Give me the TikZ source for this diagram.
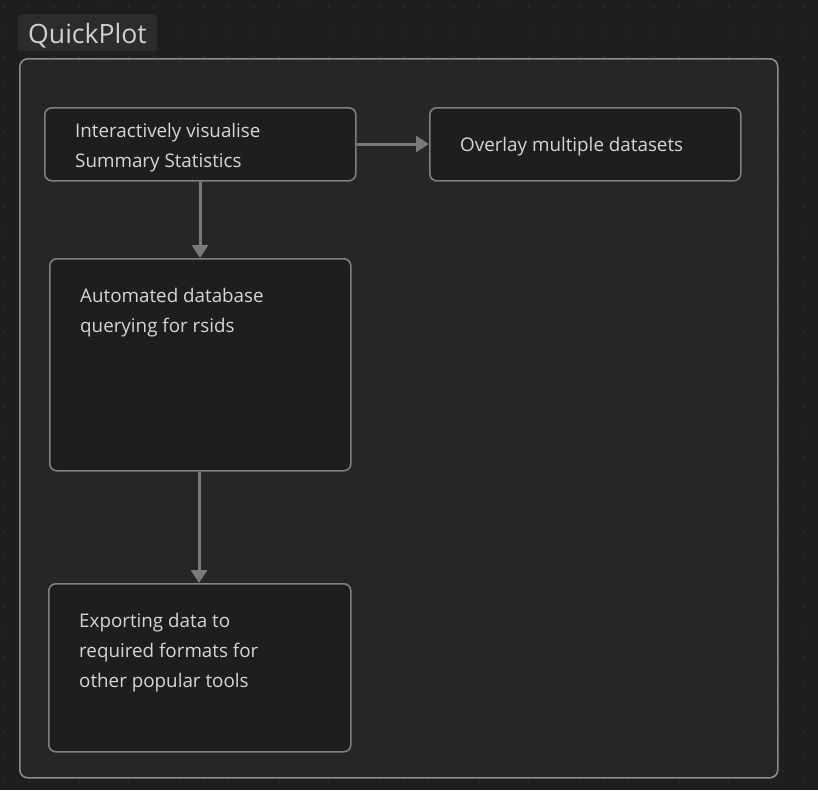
\documentclass[tikz,border=0pt]{standalone}
\usepackage{fontspec}
\setmainfont{Open Sans}
\usetikzlibrary{arrows.meta}
\definecolor{bgc}{HTML}{1E1E1E}
\definecolor{grpc}{HTML}{262626}
\definecolor{nodec}{HTML}{1E1E1E}
\definecolor{grpline}{HTML}{8C8C8C}
\definecolor{nodeline}{HTML}{808080}
\definecolor{txtc}{HTML}{D6D6D6}
\definecolor{titlebg}{HTML}{2C2C2C}
\definecolor{dotc}{HTML}{383838}
\definecolor{arrc}{HTML}{7A7A7A}
\tikzset{
  px/.style={x=1pt,y=-1pt},
  card/.style={draw=nodeline, line width=1.6pt, fill=nodec, rounded corners=7pt, inner sep=0pt},
  label/.style={anchor=base west, inner sep=0pt, text=txtc, font=\fontsize{18.8}{30}\selectfont, align=left},
  conn/.style={draw=arrc, line width=3pt, -{Triangle[length=13pt,width=16pt]}, shorten >=0pt}
}
\begin{document}
\begin{tikzpicture}[px]
\fill[bgc] (0,0) rectangle (818,790);
\useasboundingbox (0,0) rectangle (818,790);
% dot grid
\foreach \i in {0,...,32} {
  \foreach \j in {0,...,31} {
    \fill[dotc] ({4+25*\i},{7+25*\j}) circle (0.9pt);
  }
}
% group
\node[draw=grpline, line width=1.6pt, fill=grpc, rounded corners=8pt, minimum width=758pt, minimum height=719pt, anchor=north west, inner sep=0pt] (grp) at (19,58) {};
% title
\node[fill=titlebg, rounded corners=3pt, minimum width=139pt, minimum height=37pt, anchor=north west, inner sep=0pt] (ttlbox) at (18,14) {};
\node[anchor=base west, inner sep=0pt, text=txtc!92!gray, font=\fontsize{26.6}{30}\selectfont] (ttl) at (28,43) {QuickPlot};
% cards
\node[card, minimum width=311pt, minimum height=73pt, anchor=north west] (a) at (44,107) {};
\node[card, minimum width=311pt, minimum height=73pt, anchor=north west] (b) at (429,107) {};
\node[card, minimum width=301pt, minimum height=212pt, anchor=north west] (c) at (49,258) {};
\node[card, minimum width=302pt, minimum height=168pt, anchor=north west] (d) at (48,583) {};
% texts (anchored at baseline of last line)
\node[label] (ta) at (75,167) {Interactively visualise\\Summary Statistics};
\node[label] (tb) at (460,151) {Overlay multiple datasets};
\node[label] (tc) at (80,332) {Automated database\\querying for rsids};
\node[label] (td) at (79,687) {Exporting data to\\required formats for\\other popular tools};
% connectors
\draw[conn] (a.east |- 0,144) -- (b.west |- 0,144);
\draw[conn] (a.south -| 200,0) -- (c.north -| 200,0);
\draw[conn] (c.south -| 199,0) -- (d.north -| 199,0);
\end{tikzpicture}
\end{document}
